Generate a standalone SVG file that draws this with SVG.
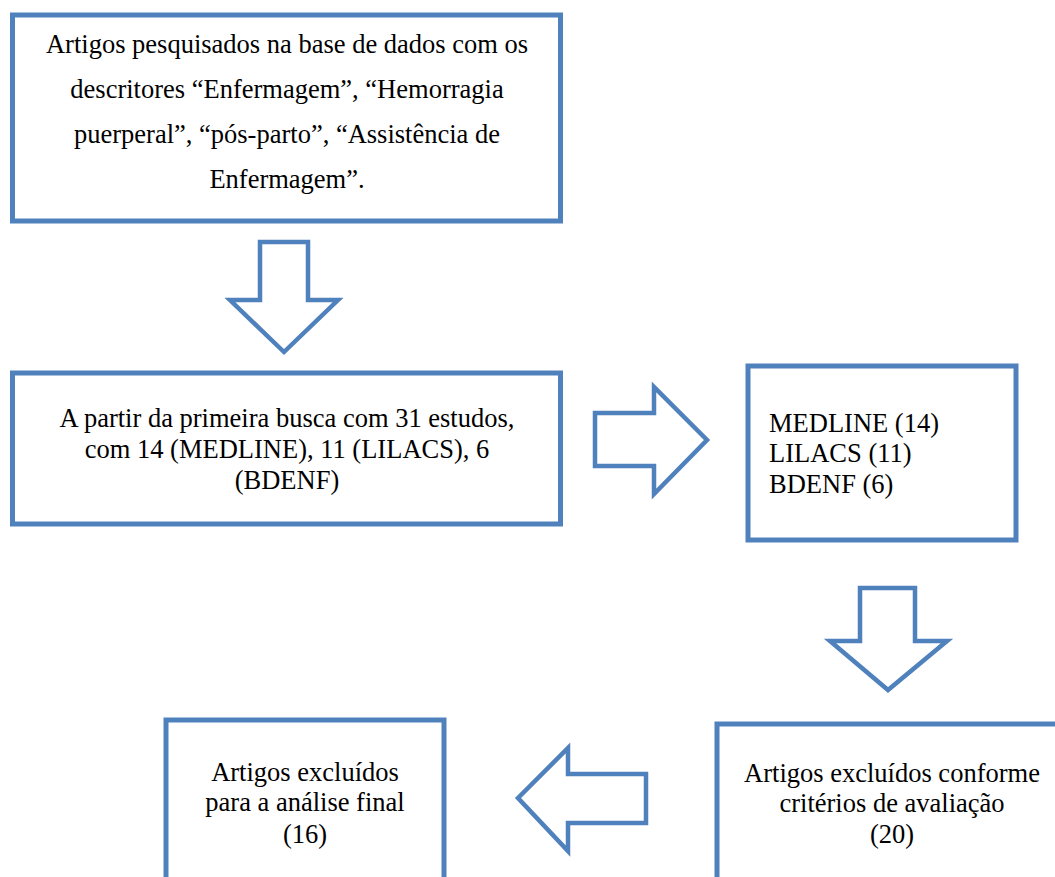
<svg xmlns="http://www.w3.org/2000/svg" width="1055" height="877" viewBox="0 0 1055 877">
<style>
.box{fill:#fff;stroke:#4f81bd;stroke-width:5}
.arr{fill:#fff;stroke:#4f81bd;stroke-width:4.5;stroke-linejoin:miter}
.t{font-family:"Liberation Serif","Times New Roman",serif;font-size:26.5px;fill:#000}
.c{text-anchor:middle}
</style>
<rect width="1055" height="877" fill="#fff"/>
<g id="connectors">
<polygon class="arr" points="260,242 308,242 308,300 338,300 284,352 230,300 260,300"/>
<polygon class="arr" points="595,413 654,413 654,387 707,440 654,494 654,466 595,466"/>
<polygon class="arr" points="860,588 915,588 915,641 947,641 888,690 830,641 860,641"/>
<polygon class="arr" points="646,774 568,774 568,748 518,798 568,851 568,823 646,823"/>
</g>
<g id="n1">
<rect class="box" x="12.5" y="15" width="548" height="206"/>
<text class="t c" x="287" y="53">Artigos pesquisados na base de dados com os</text>
<text class="t c" x="287" y="98">descritores “Enfermagem”, “Hemorragia</text>
<text class="t c" x="287" y="143">puerperal”, “pós-parto”, “Assistência de</text>
<text class="t c" x="287" y="188">Enfermagem”.</text>
</g>
<g id="n2">
<rect class="box" x="12.5" y="373" width="548" height="151"/>
<text class="t c" x="287" y="427">A partir da primeira busca com 31 estudos,</text>
<text class="t c" x="287" y="458">com 14 (MEDLINE), 11 (LILACS), 6</text>
<text class="t c" x="287" y="489">(BDENF)</text>
</g>
<g id="n3">
<rect class="box" x="748" y="366" width="268" height="174"/>
<text class="t" x="769" y="432">MEDLINE (14)</text>
<text class="t" x="769" y="462">LILACS (11)</text>
<text class="t" x="769" y="493">BDENF (6)</text>
</g>
<g id="n4">
<rect class="box" x="717" y="724" width="400" height="200"/>
<text class="t c" x="892" y="782">Artigos excluídos conforme</text>
<text class="t c" x="892" y="812">critérios de avaliação</text>
<text class="t c" x="892" y="843">(20)</text>
</g>
<g id="n5">
<rect class="box" x="166" y="720" width="278" height="200"/>
<text class="t c" x="305" y="781">Artigos excluídos</text>
<text class="t c" x="305" y="811">para a análise final</text>
<text class="t c" x="305" y="843">(16)</text>
</g>
</svg>
